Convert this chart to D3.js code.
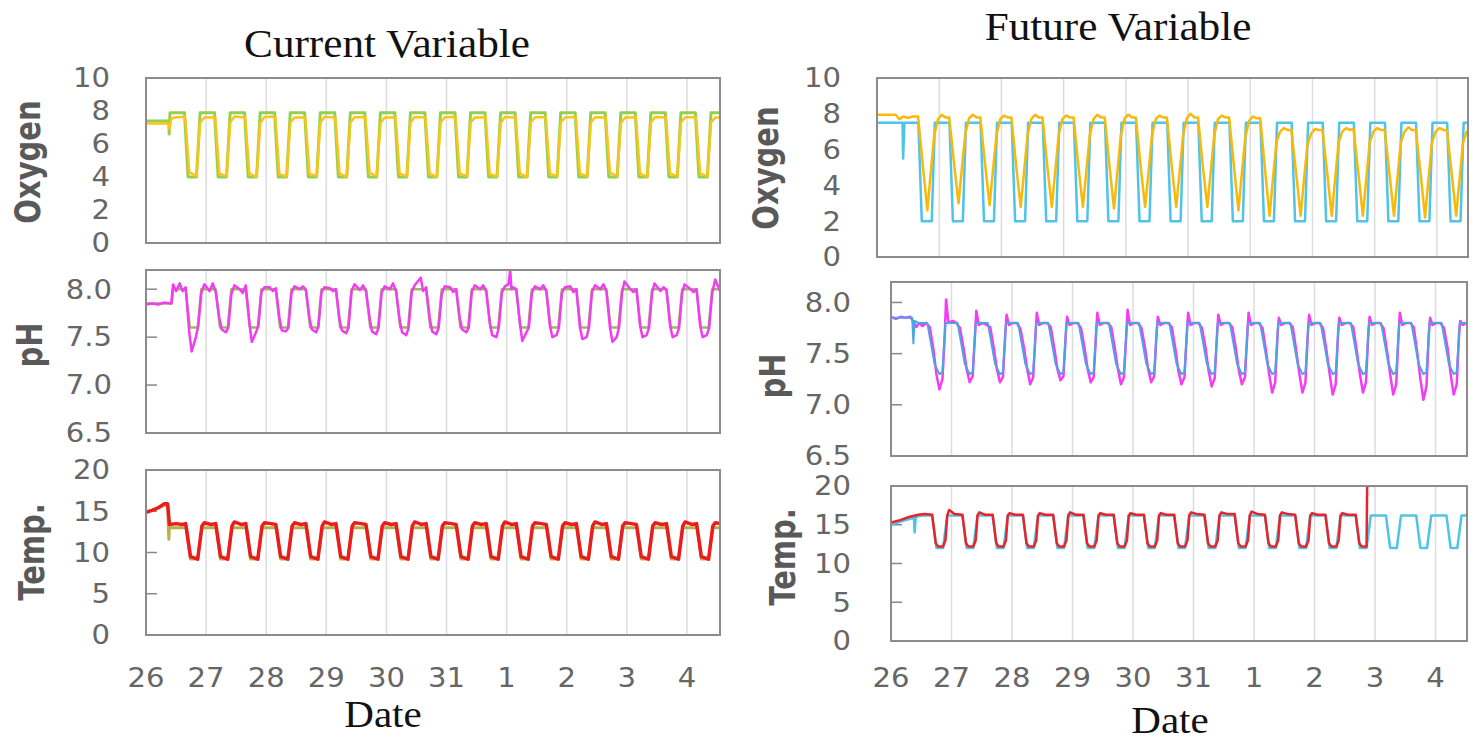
<!DOCTYPE html>
<meta charset="utf-8">
<script src="https://d3js.org/d3.v7.min.js"></script>
<style>
  body { margin: 0; background: #fff; }
  text { font-family: "DejaVu Sans", sans-serif; }
</style>
<div id="chart"></div>
<script>

// tick labels (x axis: day 0 = the 26th)
var dayLabels = ["26", "27", "28", "29", "30", "31", "1", "2", "3", "4"];
var oxyTicks = [0, 2, 4, 6, 8, 10];
var phTicks = [6.5, 7.0, 7.5, 8.0];
var tempTicks = [0, 5, 10, 15, 20];

// ---- Current Variable ----
var curOxySet = [[0,7.4],[0.38,7.4],[0.385,6.6],[0.4,7.9],
  [0.64,7.9],[0.7,4],[0.84,4],[0.9,7.9],[1.14,7.9],[1.2,4],[1.34,4],[1.4,7.9],
  [1.64,7.9],[1.7,4],[1.84,4],[1.9,7.9],[2.14,7.9],[2.2,4],[2.34,4],[2.4,7.9],
  [2.64,7.9],[2.7,4],[2.84,4],[2.9,7.9],[3.14,7.9],[3.2,4],[3.34,4],[3.4,7.9],
  [3.64,7.9],[3.7,4],[3.84,4],[3.9,7.9],[4.14,7.9],[4.2,4],[4.34,4],[4.4,7.9],
  [4.64,7.9],[4.7,4],[4.84,4],[4.9,7.9],[5.14,7.9],[5.2,4],[5.34,4],[5.4,7.9],
  [5.64,7.9],[5.7,4],[5.84,4],[5.9,7.9],[6.14,7.9],[6.2,4],[6.34,4],[6.4,7.9],
  [6.64,7.9],[6.7,4],[6.84,4],[6.9,7.9],[7.14,7.9],[7.2,4],[7.34,4],[7.4,7.9],
  [7.64,7.9],[7.7,4],[7.84,4],[7.9,7.9],[8.14,7.9],[8.2,4],[8.34,4],[8.4,7.9],
  [8.64,7.9],[8.7,4],[8.84,4],[8.9,7.9],[9.14,7.9],[9.2,4],[9.34,4],[9.4,7.9],[9.55,7.9]];

var curOxyObs = [[0,7.25],[0.37,7.25],[0.39,6.9],[0.42,7.55],[0.5,7.62],
  [0.65,7.65],[0.72,4.3],[0.84,4.05],[0.9,7.3],[0.97,7.6],
  [1.15,7.62],[1.22,4.2],[1.34,4.05],[1.4,7.3],[1.47,7.66],
  [1.65,7.6],[1.72,4.2],[1.84,4.0],[1.9,7.25],[1.97,7.64],
  [2.15,7.66],[2.22,4.15],[2.34,4.05],[2.4,7.3],[2.47,7.6],
  [2.65,7.62],[2.72,4.2],[2.84,4.05],[2.9,7.3],[2.97,7.65],
  [3.15,7.6],[3.22,4.2],[3.34,4.0],[3.4,7.3],[3.47,7.62],
  [3.65,7.64],[3.72,4.25],[3.84,4.05],[3.9,7.25],[3.97,7.6],
  [4.15,7.62],[4.22,4.2],[4.34,4.05],[4.4,7.3],[4.47,7.64],
  [4.65,7.6],[4.72,4.2],[4.84,4.0],[4.9,7.3],[4.97,7.62],
  [5.15,7.65],[5.22,4.2],[5.34,4.05],[5.4,7.3],[5.47,7.6],
  [5.65,7.62],[5.72,4.15],[5.84,4.05],[5.9,7.25],[5.97,7.64],
  [6.15,7.6],[6.22,4.2],[6.34,4.0],[6.4,7.3],[6.47,7.62],
  [6.65,7.62],[6.72,4.2],[6.84,4.05],[6.9,7.3],[6.97,7.6],
  [7.15,7.64],[7.22,4.2],[7.34,4.05],[7.4,7.3],[7.47,7.62],
  [7.65,7.6],[7.72,4.25],[7.84,4.05],[7.9,7.25],[7.97,7.6],
  [8.15,7.62],[8.22,4.2],[8.34,4.0],[8.4,7.3],[8.47,7.64],
  [8.65,7.6],[8.72,4.2],[8.84,4.05],[8.9,7.3],[8.97,7.62],
  [9.15,7.62],[9.22,4.2],[9.34,4.05],[9.4,7.3],[9.47,7.6],[9.55,7.6]];

var curPhSet = [[0,7.85],[0.43,7.85],[0.45,8],
  [0.66,8],[0.73,7.6],[0.86,7.6],[0.92,8],[1.16,8],[1.23,7.6],[1.36,7.6],[1.42,8],
  [1.66,8],[1.73,7.6],[1.86,7.6],[1.92,8],[2.16,8],[2.23,7.6],[2.36,7.6],[2.42,8],
  [2.66,8],[2.73,7.6],[2.86,7.6],[2.92,8],[3.16,8],[3.23,7.6],[3.36,7.6],[3.42,8],
  [3.66,8],[3.73,7.6],[3.86,7.6],[3.92,8],[4.16,8],[4.23,7.6],[4.36,7.6],[4.42,8],
  [4.66,8],[4.73,7.6],[4.86,7.6],[4.92,8],[5.16,8],[5.23,7.6],[5.36,7.6],[5.42,8],
  [5.66,8],[5.73,7.6],[5.86,7.6],[5.92,8],[6.16,8],[6.23,7.6],[6.36,7.6],[6.42,8],
  [6.66,8],[6.73,7.6],[6.86,7.6],[6.92,8],[7.16,8],[7.23,7.6],[7.36,7.6],[7.42,8],
  [7.66,8],[7.73,7.6],[7.86,7.6],[7.92,8],[8.16,8],[8.23,7.6],[8.36,7.6],[8.42,8],
  [8.66,8],[8.73,7.6],[8.86,7.6],[8.92,8],[9.16,8],[9.23,7.6],[9.36,7.6],[9.42,8],[9.55,8]];

var curPhObs = [[0,7.84],[0.1,7.85],[0.2,7.84],[0.3,7.86],[0.42,7.85],[0.45,8.05],[0.5,7.98],
  [0.56,8.06],[0.61,7.98],[0.66,8.02],[0.72,7.55],[0.76,7.35],[0.83,7.5],[0.87,7.62],[0.92,7.96],[0.97,8.05],
  [1.06,7.98],[1.11,8.06],[1.16,7.97],[1.22,7.7],[1.26,7.58],[1.33,7.55],[1.37,7.6],[1.42,7.95],[1.47,8.04],
  [1.56,8.0],[1.61,7.96],[1.66,8.04],[1.72,7.65],[1.76,7.45],[1.83,7.55],[1.87,7.62],[1.92,7.97],[1.97,8.02],
  [2.06,8.02],[2.11,7.98],[2.16,8.01],[2.22,7.7],[2.26,7.57],[2.33,7.56],[2.37,7.6],[2.42,7.96],[2.47,8.03],
  [2.56,8.0],[2.61,8.03],[2.66,7.99],[2.72,7.7],[2.76,7.58],[2.83,7.55],[2.87,7.61],[2.92,7.97],[2.97,8.02],
  [3.06,8.01],[3.11,7.98],[3.16,8.0],[3.22,7.68],[3.26,7.57],[3.33,7.54],[3.37,7.6],[3.42,7.98],[3.47,8.05],
  [3.56,7.99],[3.61,8.04],[3.66,7.98],[3.72,7.7],[3.76,7.56],[3.83,7.53],[3.87,7.6],[3.92,7.96],[3.97,8.03],
  [4.06,8.0],[4.11,8.06],[4.16,7.98],[4.22,7.68],[4.26,7.55],[4.33,7.52],[4.37,7.6],[4.42,7.97],[4.47,8.04],
  [4.57,8.12],[4.61,7.98],[4.66,8.02],[4.72,7.7],[4.76,7.56],[4.83,7.53],[4.87,7.6],[4.92,7.95],[4.97,8.03],
  [5.06,8.02],[5.11,7.97],[5.16,8.0],[5.22,7.7],[5.26,7.58],[5.33,7.55],[5.37,7.6],[5.42,7.97],[5.47,8.04],
  [5.56,8.0],[5.61,8.04],[5.66,7.98],[5.72,7.65],[5.76,7.52],[5.83,7.5],[5.87,7.6],[5.92,7.96],[5.97,8.03],
  [6.03,8.05],[6.06,8.2],[6.08,8.0],[6.11,8.02],[6.16,8.0],[6.22,7.65],[6.26,7.46],[6.33,7.55],[6.37,7.6],[6.42,7.96],[6.47,8.03],
  [6.56,8.0],[6.61,8.04],[6.66,7.98],[6.72,7.62],[6.76,7.5],[6.83,7.52],[6.87,7.6],[6.92,7.96],[6.97,8.02],
  [7.06,8.03],[7.11,7.97],[7.16,8.0],[7.22,7.6],[7.26,7.48],[7.33,7.5],[7.37,7.6],[7.42,7.97],[7.47,8.04],
  [7.56,8.0],[7.61,8.05],[7.66,7.98],[7.72,7.6],[7.76,7.45],[7.83,7.5],[7.87,7.6],[7.92,7.96],[7.96,8.08],
  [8.06,8.0],[8.11,7.97],[8.16,8.0],[8.22,7.62],[8.26,7.5],[8.33,7.52],[8.37,7.6],[8.42,7.96],[8.46,8.06],
  [8.56,7.98],[8.61,8.02],[8.66,7.99],[8.72,7.62],[8.76,7.5],[8.83,7.52],[8.87,7.6],[8.92,7.96],[8.96,8.05],
  [9.06,8.0],[9.11,7.97],[9.16,8.0],[9.22,7.62],[9.26,7.5],[9.33,7.52],[9.37,7.6],[9.42,7.96],[9.47,8.1],[9.55,7.98]];

var curTempSet = [[0,14.8],[0.33,15.8],[0.36,15.7],[0.38,11.6],[0.39,13],
  [0.67,13],[0.74,9.2],[0.86,9.2],[0.93,13],[1.17,13],[1.24,9.2],[1.36,9.2],[1.43,13],
  [1.67,13],[1.74,9.2],[1.86,9.2],[1.93,13],[2.17,13],[2.24,9.2],[2.36,9.2],[2.43,13],
  [2.67,13],[2.74,9.2],[2.86,9.2],[2.93,13],[3.17,13],[3.24,9.2],[3.36,9.2],[3.43,13],
  [3.67,13],[3.74,9.2],[3.86,9.2],[3.93,13],[4.17,13],[4.24,9.2],[4.36,9.2],[4.43,13],
  [4.67,13],[4.74,9.2],[4.86,9.2],[4.93,13],[5.17,13],[5.24,9.2],[5.36,9.2],[5.43,13],
  [5.67,13],[5.74,9.2],[5.86,9.2],[5.93,13],[6.17,13],[6.24,9.2],[6.36,9.2],[6.43,13],
  [6.67,13],[6.74,9.2],[6.86,9.2],[6.93,13],[7.17,13],[7.24,9.2],[7.36,9.2],[7.43,13],
  [7.67,13],[7.74,9.2],[7.86,9.2],[7.93,13],[8.17,13],[8.24,9.2],[8.36,9.2],[8.43,13],
  [8.67,13],[8.74,9.2],[8.86,9.2],[8.93,13],[9.17,13],[9.24,9.2],[9.36,9.2],[9.43,13],[9.55,13]];

var curTempObs = [[0,14.9],[0.1,15.1],[0.2,15.4],[0.3,15.9],[0.36,15.9],[0.39,13.4],[0.5,13.5],[0.6,13.4],
  [0.66,13.5],[0.74,9.5],[0.86,9.2],[0.93,13.2],[0.97,13.6],[1.08,13.4],
  [1.16,13.5],[1.24,9.5],[1.36,9.2],[1.43,13.2],[1.47,13.7],[1.58,13.4],
  [1.66,13.5],[1.74,9.5],[1.86,9.2],[1.93,13.2],[1.97,13.6],[2.08,13.5],
  [2.16,13.4],[2.24,9.5],[2.36,9.2],[2.43,13.2],[2.47,13.6],[2.58,13.4],
  [2.66,13.5],[2.74,9.5],[2.86,9.2],[2.93,13.2],[2.97,13.7],[3.08,13.4],
  [3.16,13.5],[3.24,9.5],[3.36,9.2],[3.43,13.2],[3.47,13.6],[3.58,13.5],
  [3.66,13.4],[3.74,9.5],[3.86,9.2],[3.93,13.2],[3.97,13.6],[4.08,13.4],
  [4.16,13.5],[4.24,9.5],[4.36,9.2],[4.43,13.2],[4.47,13.7],[4.58,13.4],
  [4.66,13.5],[4.74,9.5],[4.86,9.2],[4.93,13.2],[4.97,13.6],[5.08,13.5],
  [5.16,13.4],[5.24,9.5],[5.36,9.2],[5.43,13.2],[5.47,13.6],[5.58,13.4],
  [5.66,13.5],[5.74,9.5],[5.86,9.2],[5.93,13.2],[5.97,13.7],[6.08,13.4],
  [6.16,13.5],[6.24,9.5],[6.36,9.2],[6.43,13.2],[6.47,13.6],[6.58,13.5],
  [6.66,13.4],[6.74,9.5],[6.86,9.2],[6.93,13.2],[6.97,13.6],[7.08,13.4],
  [7.16,13.5],[7.24,9.5],[7.36,9.2],[7.43,13.2],[7.47,13.7],[7.58,13.4],
  [7.66,13.5],[7.74,9.5],[7.86,9.2],[7.93,13.2],[7.97,13.6],[8.08,13.5],
  [8.16,13.4],[8.24,9.5],[8.36,9.2],[8.43,13.2],[8.47,13.6],[8.58,13.4],
  [8.66,13.5],[8.74,9.5],[8.86,9.2],[8.93,13.2],[8.97,13.7],[9.08,13.4],
  [9.16,13.5],[9.24,9.5],[9.36,9.2],[9.43,13.2],[9.47,13.6],[9.55,13.5]];

// ---- Future Variable ----
var futOxySet = [[0,7.5],[0.41,7.5],[0.42,5.5],[0.44,7.5],
  [0.665,7.5],[0.72,2],[0.88,2],[0.93,7.5],[1.165,7.5],[1.22,2],[1.38,2],[1.43,7.5],
  [1.665,7.5],[1.72,2],[1.88,2],[1.93,7.5],[2.165,7.5],[2.22,2],[2.38,2],[2.43,7.5],
  [2.665,7.5],[2.72,2],[2.88,2],[2.93,7.5],[3.165,7.5],[3.22,2],[3.38,2],[3.43,7.5],
  [3.665,7.5],[3.72,2],[3.88,2],[3.93,7.5],[4.165,7.5],[4.22,2],[4.38,2],[4.43,7.5],
  [4.665,7.5],[4.72,2],[4.88,2],[4.93,7.5],[5.165,7.5],[5.22,2],[5.38,2],[5.43,7.5],
  [5.665,7.5],[5.72,2],[5.88,2],[5.93,7.5],[6.165,7.5],[6.22,2],[6.38,2],[6.43,7.5],
  [6.665,7.5],[6.72,2],[6.88,2],[6.93,7.5],[7.165,7.5],[7.22,2],[7.38,2],[7.43,7.5],
  [7.665,7.5],[7.72,2],[7.88,2],[7.93,7.5],[8.165,7.5],[8.22,2],[8.38,2],[8.43,7.5],
  [8.665,7.5],[8.72,2],[8.88,2],[8.93,7.5],[9.165,7.5],[9.22,2],[9.38,2],[9.43,7.5],[9.5,7.5]];

var futOxyObs = [[0,7.95],[0.3,7.95],[0.36,7.7],[0.42,7.85],[0.5,7.78],[0.58,7.85],
  [0.66,7.85],[0.74,5.0],[0.81,2.6],[0.86,4.6],[0.92,6.8],[0.98,7.7],[1.04,7.95],[1.1,7.8],
  [1.16,7.8],[1.24,5.2],[1.31,3.0],[1.36,4.8],[1.42,6.9],[1.48,7.75],[1.54,7.95],[1.6,7.8],
  [1.66,7.8],[1.74,5.1],[1.81,2.9],[1.86,4.7],[1.92,6.8],[1.98,7.7],[2.04,7.9],[2.1,7.8],
  [2.16,7.8],[2.24,5.0],[2.31,2.8],[2.36,4.6],[2.42,6.8],[2.48,7.7],[2.54,7.95],[2.6,7.8],
  [2.66,7.8],[2.74,5.0],[2.81,2.8],[2.86,4.6],[2.92,6.8],[2.98,7.7],[3.04,7.9],[3.1,7.8],
  [3.16,7.8],[3.24,5.0],[3.31,2.8],[3.36,4.6],[3.42,6.8],[3.48,7.7],[3.54,7.95],[3.6,7.8],
  [3.66,7.8],[3.74,5.0],[3.81,2.7],[3.86,4.6],[3.92,6.8],[3.98,7.75],[4.04,7.95],[4.1,7.8],
  [4.16,7.8],[4.24,5.0],[4.31,2.8],[4.36,4.6],[4.42,6.8],[4.48,7.7],[4.54,7.9],[4.6,7.8],
  [4.66,7.8],[4.74,5.0],[4.81,2.8],[4.86,4.6],[4.92,6.8],[4.98,7.75],[5.04,8.0],[5.1,7.8],
  [5.16,7.8],[5.24,5.0],[5.31,2.8],[5.36,4.6],[5.42,6.8],[5.48,7.7],[5.54,7.9],[5.6,7.8],
  [5.66,7.8],[5.74,5.0],[5.81,2.6],[5.86,4.5],[5.92,6.7],[5.98,7.6],[6.04,7.85],[6.1,7.75],
  [6.16,7.75],[6.24,4.8],[6.31,2.3],[6.36,4.2],[6.42,6.4],[6.48,7.0],[6.54,7.2],[6.6,7.1],
  [6.66,7.1],[6.74,4.6],[6.81,2.3],[6.86,4.2],[6.92,6.3],[6.98,6.9],[7.04,7.15],[7.1,7.1],
  [7.16,7.1],[7.24,4.6],[7.31,2.3],[7.36,4.2],[7.42,6.4],[7.48,7.0],[7.54,7.2],[7.6,7.1],
  [7.66,7.15],[7.74,4.6],[7.81,2.3],[7.86,4.2],[7.92,6.4],[7.98,7.0],[8.04,7.2],[8.1,7.1],
  [8.16,7.1],[8.24,4.6],[8.31,2.3],[8.36,4.2],[8.42,6.4],[8.48,7.0],[8.54,7.25],[8.6,7.1],
  [8.66,7.1],[8.74,4.6],[8.81,2.2],[8.86,4.2],[8.92,6.4],[8.98,7.0],[9.04,7.2],[9.1,7.1],
  [9.16,7.1],[9.24,4.6],[9.31,2.3],[9.36,4.2],[9.42,6.4],[9.48,7.0],[9.5,7.05]];

var futPhSet = [[0,7.85],[0.35,7.85],[0.37,7.6],[0.39,7.82],[0.45,7.8],
  [0.6,7.8],[0.72,7.4],[0.8,7.3],[0.85,7.32],[0.9,7.8],[1.1,7.8],[1.22,7.4],[1.3,7.3],[1.35,7.32],[1.4,7.8],
  [1.6,7.8],[1.72,7.4],[1.8,7.3],[1.85,7.32],[1.9,7.8],[2.1,7.8],[2.22,7.4],[2.3,7.3],[2.35,7.32],[2.4,7.8],
  [2.6,7.8],[2.72,7.4],[2.8,7.3],[2.85,7.32],[2.9,7.8],[3.1,7.8],[3.22,7.4],[3.3,7.3],[3.35,7.32],[3.4,7.8],
  [3.6,7.8],[3.72,7.4],[3.8,7.3],[3.85,7.32],[3.9,7.8],[4.1,7.8],[4.22,7.4],[4.3,7.3],[4.35,7.32],[4.4,7.8],
  [4.6,7.8],[4.72,7.4],[4.8,7.3],[4.85,7.32],[4.9,7.8],[5.1,7.8],[5.22,7.4],[5.3,7.3],[5.35,7.32],[5.4,7.8],
  [5.6,7.8],[5.72,7.4],[5.8,7.3],[5.85,7.32],[5.9,7.8],[6.1,7.8],[6.22,7.4],[6.3,7.3],[6.35,7.32],[6.4,7.8],
  [6.6,7.8],[6.72,7.4],[6.8,7.3],[6.85,7.32],[6.9,7.8],[7.1,7.8],[7.22,7.4],[7.3,7.3],[7.35,7.32],[7.4,7.8],
  [7.6,7.8],[7.72,7.4],[7.8,7.3],[7.85,7.32],[7.9,7.8],[8.1,7.8],[8.22,7.4],[8.3,7.3],[8.35,7.32],[8.4,7.8],
  [8.6,7.8],[8.72,7.4],[8.8,7.3],[8.85,7.32],[8.9,7.8],[9.1,7.8],[9.22,7.4],[9.3,7.3],[9.35,7.32],[9.4,7.8],[9.52,7.8]];

var futPhObs = [[0,7.86],[0.08,7.84],[0.16,7.86],[0.24,7.85],[0.32,7.86],[0.38,7.8],[0.42,7.76],[0.46,7.8],[0.52,7.77],
  [0.58,7.8],[0.64,7.76],[0.7,7.55],[0.75,7.3],[0.8,7.15],[0.85,7.25],[0.89,7.7],[0.91,8.03],[0.95,7.8],[1.02,7.82],
  [1.08,7.8],[1.14,7.75],[1.2,7.55],[1.25,7.35],[1.3,7.22],[1.35,7.28],[1.39,7.7],[1.41,7.92],[1.45,7.78],[1.52,7.8],
  [1.58,7.78],[1.64,7.76],[1.7,7.55],[1.75,7.35],[1.8,7.22],[1.85,7.27],[1.89,7.7],[1.91,7.88],[1.95,7.78],[2.02,7.8],
  [2.08,7.8],[2.14,7.74],[2.2,7.55],[2.25,7.35],[2.3,7.2],[2.35,7.27],[2.39,7.7],[2.41,7.9],[2.45,7.78],[2.52,7.8],
  [2.58,7.8],[2.64,7.76],[2.7,7.55],[2.75,7.35],[2.8,7.24],[2.85,7.28],[2.89,7.7],[2.91,7.86],[2.95,7.78],[3.02,7.8],
  [3.08,7.8],[3.14,7.75],[3.2,7.55],[3.25,7.35],[3.3,7.22],[3.35,7.27],[3.39,7.7],[3.41,7.9],[3.45,7.78],[3.52,7.8],
  [3.58,7.8],[3.64,7.76],[3.7,7.55],[3.75,7.35],[3.8,7.2],[3.85,7.27],[3.89,7.7],[3.91,7.93],[3.95,7.78],[4.02,7.8],
  [4.08,7.8],[4.14,7.75],[4.2,7.55],[4.25,7.35],[4.3,7.22],[4.35,7.28],[4.39,7.7],[4.41,7.86],[4.45,7.78],[4.52,7.8],
  [4.58,7.8],[4.64,7.76],[4.7,7.55],[4.75,7.33],[4.8,7.2],[4.85,7.27],[4.89,7.7],[4.91,7.9],[4.95,7.78],[5.02,7.8],
  [5.08,7.8],[5.14,7.75],[5.2,7.55],[5.25,7.33],[5.3,7.18],[5.35,7.26],[5.39,7.7],[5.41,7.88],[5.45,7.78],[5.52,7.8],
  [5.58,7.8],[5.64,7.76],[5.7,7.55],[5.75,7.33],[5.8,7.2],[5.85,7.27],[5.89,7.7],[5.91,7.9],[5.95,7.78],[6.02,7.8],
  [6.08,7.8],[6.14,7.75],[6.2,7.52],[6.25,7.3],[6.3,7.12],[6.35,7.22],[6.39,7.7],[6.41,7.85],[6.45,7.78],[6.52,7.8],
  [6.58,7.8],[6.64,7.76],[6.7,7.52],[6.75,7.3],[6.8,7.12],[6.85,7.22],[6.89,7.7],[6.91,7.88],[6.95,7.78],[7.02,7.8],
  [7.08,7.8],[7.14,7.75],[7.2,7.52],[7.25,7.3],[7.3,7.1],[7.35,7.2],[7.39,7.7],[7.41,7.85],[7.45,7.78],[7.52,7.8],
  [7.58,7.8],[7.64,7.76],[7.7,7.52],[7.75,7.3],[7.8,7.12],[7.85,7.22],[7.89,7.7],[7.91,7.86],[7.95,7.78],[8.02,7.8],
  [8.08,7.8],[8.14,7.75],[8.2,7.52],[8.25,7.3],[8.3,7.1],[8.35,7.2],[8.39,7.7],[8.41,7.9],[8.45,7.78],[8.52,7.8],
  [8.58,7.8],[8.64,7.76],[8.7,7.5],[8.75,7.25],[8.8,7.05],[8.85,7.18],[8.89,7.7],[8.91,7.85],[8.95,7.78],[9.02,7.8],
  [9.08,7.8],[9.14,7.75],[9.2,7.55],[9.25,7.3],[9.3,7.1],[9.35,7.2],[9.39,7.7],[9.41,7.82],[9.45,7.78],[9.52,7.8]];

var futTempSet = [[0,15],[0.2,15.5],[0.38,15.9],[0.39,14],[0.41,16],[0.5,16.2],
  [0.68,16.2],[0.75,12],[0.86,12],[0.93,16.2],[1.18,16.2],[1.25,12],[1.36,12],[1.43,16.2],
  [1.68,16.2],[1.75,12],[1.86,12],[1.93,16.2],[2.18,16.2],[2.25,12],[2.36,12],[2.43,16.2],
  [2.68,16.2],[2.75,12],[2.86,12],[2.93,16.2],[3.18,16.2],[3.25,12],[3.36,12],[3.43,16.2],
  [3.68,16.2],[3.75,12],[3.86,12],[3.93,16.2],[4.18,16.2],[4.25,12],[4.36,12],[4.43,16.2],
  [4.68,16.2],[4.75,12],[4.86,12],[4.93,16.2],[5.18,16.2],[5.25,12],[5.36,12],[5.43,16.2],
  [5.68,16.2],[5.75,12],[5.86,12],[5.93,16.2],[6.18,16.2],[6.25,12],[6.36,12],[6.43,16.2],
  [6.68,16.2],[6.75,12],[6.86,12],[6.93,16.2],[7.18,16.2],[7.25,12],[7.36,12],[7.43,16.2],
  [7.68,16.2],[7.75,12],[7.86,12],[7.93,16.2],[8.18,16.2],[8.25,12],[8.36,12],[8.43,16.2],
  [8.68,16.2],[8.75,12],[8.86,12],[8.93,16.2],[9.18,16.2],[9.25,12],[9.36,12],[9.43,16.2],[9.52,16.2]];

var futTempObs = [[0,15.3],[0.15,15.6],[0.3,16],[0.45,16.3],[0.55,16.4],
  [0.68,16.3],[0.74,12.6],[0.78,12.2],[0.86,12.2],[0.9,13],[0.93,16.2],[0.96,16.9],[1.05,16.4],
  [1.18,16.3],[1.24,12.6],[1.28,12.2],[1.36,12.2],[1.4,13],[1.43,16.2],[1.46,16.6],[1.55,16.3],
  [1.68,16.3],[1.74,12.6],[1.78,12.2],[1.86,12.2],[1.9,13],[1.93,16.2],[1.96,16.5],[2.05,16.3],
  [2.18,16.3],[2.24,12.6],[2.28,12.2],[2.36,12.2],[2.4,13],[2.43,16.2],[2.46,16.5],[2.55,16.3],
  [2.68,16.3],[2.74,12.6],[2.78,12.2],[2.86,12.2],[2.9,13],[2.93,16.2],[2.96,16.6],[3.05,16.3],
  [3.18,16.3],[3.24,12.6],[3.28,12.2],[3.36,12.2],[3.4,13],[3.43,16.2],[3.46,16.5],[3.55,16.3],
  [3.68,16.3],[3.74,12.6],[3.78,12.2],[3.86,12.2],[3.9,13],[3.93,16.2],[3.96,16.5],[4.05,16.3],
  [4.18,16.3],[4.24,12.6],[4.28,12.2],[4.36,12.2],[4.4,13],[4.43,16.2],[4.46,16.5],[4.55,16.3],
  [4.68,16.3],[4.74,12.6],[4.78,12.2],[4.86,12.2],[4.9,13],[4.93,16.2],[4.96,16.6],[5.05,16.4],
  [5.18,16.3],[5.24,12.6],[5.28,12.2],[5.36,12.2],[5.4,13],[5.43,16.2],[5.46,16.6],[5.55,16.4],
  [5.68,16.4],[5.74,12.6],[5.78,12.2],[5.86,12.2],[5.9,13],[5.93,16.2],[5.96,16.7],[6.05,16.4],
  [6.18,16.3],[6.24,12.6],[6.28,12.2],[6.36,12.2],[6.4,13],[6.43,16.2],[6.46,16.6],[6.55,16.4],
  [6.68,16.3],[6.74,12.6],[6.78,12.2],[6.86,12.2],[6.9,13],[6.93,16.2],[6.96,16.5],[7.05,16.3],
  [7.18,16.3],[7.24,12.6],[7.28,12.2],[7.36,12.2],[7.4,13],[7.43,16.2],[7.46,16.5],[7.55,16.3],
  [7.68,16.3],[7.74,12.6],[7.78,12.2],[7.86,12.2],[7.87,20]];

// ---- layout ----
var svg = d3.select("#chart").append("svg")
  .attr("width", 1480).attr("height", 742);
svg.append("rect").attr("width", 1480).attr("height", 742).attr("fill", "#fff");

var panels = [
  {left: 146, right: 720, top: 78, bottom: 243, xMax: 9.55, yDom: [0, 10], ticks: oxyTicks, fmt: d3.format("d"),
   label: "Oxygen", lx: 40, ly: 162, tickEnd: 110, inner: false,
   series: [{d: curOxySet, c: "#92d050", w: 3}, {d: curOxyObs, c: "#fcc419", w: 2.5}]},
  {left: 146, right: 720, top: 270, bottom: 433, xMax: 9.55, yDom: [6.5, 8.2], ticks: phTicks, fmt: d3.format(".1f"),
   label: "pH", lx: 42, ly: 345, tickEnd: 112, inner: true,
   series: [{d: curPhSet, c: "#9bbb59", w: 2.5}, {d: curPhObs, c: "#f23cf2", w: 2.5}]},
  {left: 146, right: 720, top: 470, bottom: 635, xMax: 9.55, yDom: [0, 20], ticks: tempTicks, fmt: d3.format("d"),
   label: "Temp.", lx: 44, ly: 552, tickEnd: 110, inner: true,
   series: [{d: curTempSet, c: "#b5b04a", w: 3}, {d: curTempObs, c: "#ec1c1c", w: 3.5}]},
  {left: 877, right: 1468, top: 78, bottom: 257, xMax: 9.5, yDom: [0, 10], ticks: oxyTicks, fmt: d3.format("d"),
   label: "Oxygen", lx: 778, ly: 168, tickEnd: 841, inner: false,
   series: [{d: futOxySet, c: "#4fc3e8", w: 2.5}, {d: futOxyObs, c: "#f7b90a", w: 2.5}]},
  {left: 891, right: 1467, top: 282, bottom: 456, xMax: 9.52, yDom: [6.5, 8.2], ticks: phTicks, fmt: d3.format(".1f"),
   label: "pH", lx: 785, ly: 376, tickEnd: 851, inner: true,
   series: [{d: futPhObs, c: "#f53cf5", w: 2.5}, {d: futPhSet, c: "#4aa6e0", w: 2}]},
  {left: 891, right: 1467, top: 486, bottom: 641, xMax: 9.52, yDom: [0, 20], ticks: tempTicks, fmt: d3.format("d"),
   label: "Temp.", lx: 795, ly: 557, tickEnd: 851, inner: true,
   series: [{d: futTempSet, c: "#4fc3e8", w: 2.5}, {d: futTempObs, c: "#e8242a", w: 2.5}]}
];

var gridDays = d3.range(1, 10);

panels.forEach(function(p, i) {
  var x = d3.scaleLinear().domain([0, p.xMax]).range([p.left, p.right]);
  var y = d3.scaleLinear().domain(p.yDom).range([p.bottom, p.top]);
  p.x = x;
  var g = svg.append("g");

  g.append("clipPath").attr("id", "clip" + i)
    .append("rect")
      .attr("x", p.left).attr("y", p.top)
      .attr("width", p.right - p.left).attr("height", p.bottom - p.top);

  // vertical grid lines at each day
  g.selectAll(".grid").data(gridDays).enter().append("line")
    .attr("x1", function(d) { return x(d); })
    .attr("x2", function(d) { return x(d); })
    .attr("y1", p.top).attr("y2", p.bottom)
    .attr("stroke", "#dcdcdc").attr("stroke-width", 1.5);

  // short inner ticks
  if (p.inner) {
    g.selectAll(".itick").data(p.ticks).enter().append("line")
      .attr("x1", p.left).attr("x2", p.left + 11)
      .attr("y1", function(d) { return y(d); })
      .attr("y2", function(d) { return y(d); })
      .attr("stroke", "#888").attr("stroke-width", 1.5);
  }

  // y tick labels, slightly widened like the source
  g.selectAll(".ylab").data(p.ticks).enter().append("text")
    .attr("transform", function(d) { return "translate(" + p.tickEnd + "," + y(d) + ") scale(1.12,1)"; })
    .attr("dy", "0.36em")
    .attr("text-anchor", "end")
    .attr("font-size", 26)
    .attr("fill", "#666")
    .text(p.fmt);

  // axis title
  g.append("text")
    .attr("transform", "translate(" + p.lx + "," + p.ly + ") scale(1.2,1) rotate(-90)")
    .attr("text-anchor", "middle")
    .attr("font-size", 29)
    .attr("font-weight", "bold")
    .attr("fill", "#595959")
    .text(p.label);

  // series
  var line = d3.line()
    .x(function(d) { return x(d[0]); })
    .y(function(d) { return y(d[1]); });

  var lines = g.append("g").attr("clip-path", "url(#clip" + i + ")");
  p.series.forEach(function(s) {
    lines.append("path")
      .datum(s.d)
      .attr("d", line)
      .attr("fill", "none")
      .attr("stroke", s.c)
      .attr("stroke-width", s.w)
      .attr("stroke-linejoin", "round");
  });

  // frame
  g.append("rect")
    .attr("x", p.left).attr("y", p.top)
    .attr("width", p.right - p.left).attr("height", p.bottom - p.top)
    .attr("fill", "none").attr("stroke", "#8c8c8c").attr("stroke-width", 2);
});

// x tick labels under the bottom panels
[panels[2], panels[5]].forEach(function(p) {
  svg.append("g").selectAll("text").data(dayLabels).enter().append("text")
    .attr("transform", function(d, i) { return "translate(" + p.x(i) + ",687) scale(1.12,1)"; })
    .attr("text-anchor", "middle")
    .attr("font-size", 26)
    .attr("fill", "#666")
    .text(function(d) { return d; });
});

// titles
var serif = "'Liberation Serif', 'Times New Roman', serif";
function title(txt, x, y, size) {
  svg.append("text")
    .attr("transform", "translate(" + x + "," + y + ") scale(1.08,1)")
    .attr("text-anchor", "middle")
    .style("font-family", serif).attr("font-size", size).attr("fill", "#111")
    .text(txt);
}
title("Current Variable", 387, 57, 40);
title("Future Variable", 1118, 40, 40);
title("Date", 383, 727, 38);
title("Date", 1170, 733, 38);

</script>
